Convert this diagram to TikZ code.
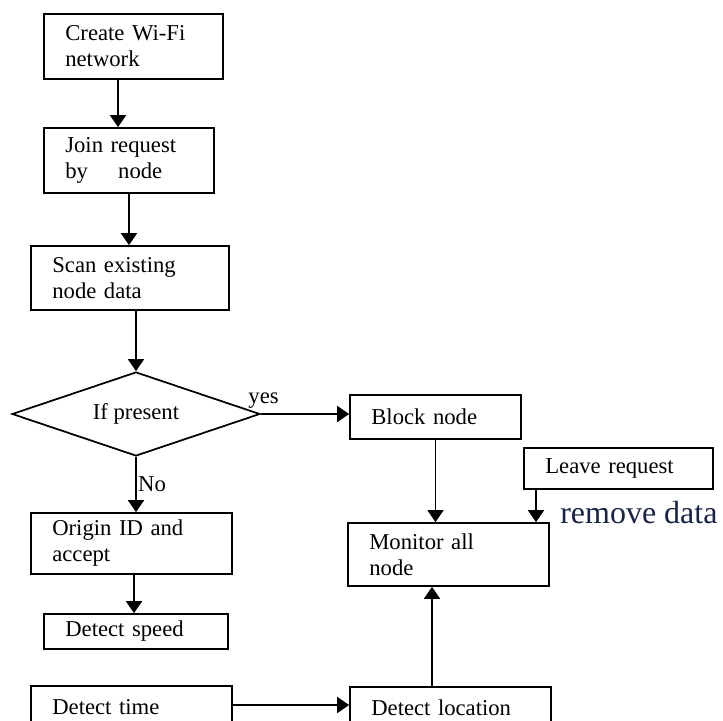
\documentclass[tikz,border=0pt]{standalone}
\usepackage{fontspec}
\setmainfont{Liberation Serif}
\usepackage{xcolor}
\usetikzlibrary{arrows.meta,shapes.geometric}
\definecolor{labelnavy}{RGB}{25,35,70}

\begin{document}
\begin{tikzpicture}[x=0.75pt,y=-0.75pt,font=\fontsize{17}{19.5}\selectfont,
  >={Triangle[width=12pt,length=9pt]},
  box/.style={draw,line width=1.3pt,align=left,inner xsep=16pt,inner ysep=0pt},
  flow/.style={->,line width=1.3pt}]
\useasboundingbox (0,0) rectangle (723,720);
\clip (0,0) rectangle (723,720);
\node[box,text width=102.25pt,minimum height=48.75pt] (create) at (133.5,46.5) {Create Wi-Fi\\network};
\node[box,text width=95.5pt,minimum height=48.75pt] (join) at (129,160.5) {Join request\\by\quad\ node};
\node[box,text width=116.5pt,minimum height=48pt] (scan) at (130,278) {Scan existing\\node data};
\node[draw,diamond,line width=1.3pt,aspect=2.95,minimum width=186pt,minimum height=63pt,inner sep=0pt] (dia) at (136,414) {If present};
\node[box,text width=96.25pt,minimum height=33pt] (block) at (435.5,417) {Block node};
\node[box,text width=109.75pt,minimum height=30.75pt] (leave) at (618.5,468.5) {Leave request};
\node[box,text width=118.75pt,minimum height=47.25pt] (monitor) at (448.5,554.5) {Monitor all\\node};
\node[box,text width=118.75pt,minimum height=45.75pt] (origin) at (131.5,543.5) {Origin ID and\\accept};
\node[box,text width=106pt,minimum height=26.25pt] (speed) at (136,631.5) {Detect speed};
\node[box,text width=118.75pt,minimum height=31.5pt] (dtime) at (131.5,707) {Detect time};
\node[box,text width=118.75pt,minimum height=31.5pt] (dloc) at (450.5,708) {Detect location};
\node[anchor=base west,font=\fontsize{24}{28}\selectfont,text=labelnavy,inner sep=0pt] (rmdata) at (560,523) {remove data};
\draw[flow] (create.south -| 118,0) -- (join.north -| 118,0);
\draw[flow] (join.south) -- (scan.north -| join.south);
\draw[flow] (scan.south -| dia.north) -- (dia.north);
\draw[flow] (dia.east) -- node[pos=0,above,xshift=2pt] {yes} (block.west |- dia.east);
\draw[flow] (dia.south) -- node[right,inner sep=1pt] {No} (origin.north -| dia.south);
\draw[flow] (block.south) -- (monitor.north -| block.south);
\draw[flow] (leave.south -| 536,0) -- (monitor.north -| 536,0);
\draw[flow] (origin.south -| 134,0) -- (speed.north -| 134,0);
\draw[flow] (dtime.east |- 0,705) -- (dloc.west |- 0,705);
\draw[flow] (dloc.north -| 432,0) -- (monitor.south -| 432,0);
\end{tikzpicture}
\end{document}
